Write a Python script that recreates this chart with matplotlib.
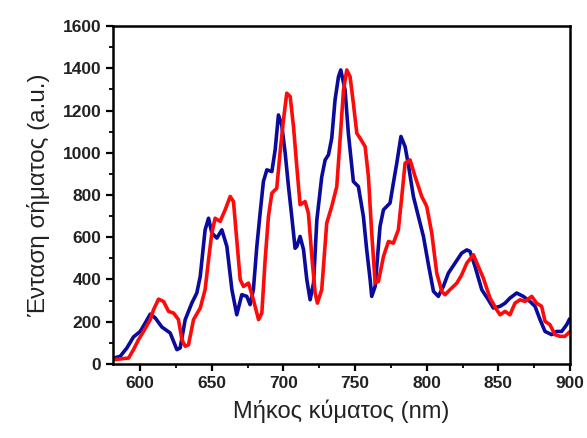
import matplotlib.pyplot as plt
from matplotlib.ticker import MultipleLocator

plt.rcParams['font.family'] = ['Liberation Sans', 'DejaVu Sans']

# Φάσμα 1 (μπλε)
mikos_mple = [581.4, 586, 590.7, 595.3, 600, 603.5, 607, 610.5, 615.1, 620.9, 625.6, 627.9,
              631.4, 636, 639.5, 641.9, 645.3, 647.7, 650, 653.5, 657, 660.5, 664, 667.4,
              670.9, 674.4, 676.7, 679, 681.4, 683.7, 686, 688.4, 691.9, 694.2, 696.5, 698.8,
              701.2, 703.5, 705.8, 708.1, 709.3, 711.6, 714, 716.3, 718.6, 721, 723.3, 726.7,
              729.1, 731.4, 733.7, 736, 738.4, 740, 743, 745.3, 748.8, 752.3, 755.8, 758.1,
              760.5, 761.6, 764, 767.4, 769.8, 774.4, 776.7, 779.1, 782, 784.9, 787.2, 790.7,
              794.2, 797.7, 801.2, 804.7, 808.1, 811.6, 815.1, 819.8, 824.4, 828, 830.2, 833.7,
              838.4, 843, 846.5, 851.2, 854.7, 858.1, 862.8, 867.4, 872.1, 875.6, 879.1, 882.6,
              887.2, 890.7, 894.2, 897.7, 899.5]
entasi_mple = [28, 36, 76, 128, 154, 194, 236, 218, 175, 147, 68, 76,
               210, 288, 336, 415, 635, 690, 620, 596, 635, 556, 352, 233,
               328, 320, 281, 352, 556, 714, 864, 919, 911, 1014, 1179, 1131,
               998, 840, 698, 548, 556, 604, 541, 399, 304, 383, 682, 885,
               966, 990, 1069, 1250, 1360, 1392, 1297, 1092, 864, 840, 698, 541,
               399, 320, 367, 651, 730, 762, 856, 951, 1077, 1029, 943, 793,
               698, 604, 470, 344, 320, 367, 430, 478, 525, 540, 533, 462,
               352, 304, 265, 273, 288, 312, 336, 320, 296, 273, 210, 154,
               139, 154, 154, 186, 210]

# Φάσμα 2 (κόκκινο)
mikos_kokkino = [581.4, 586, 591.9, 595.3, 598.8, 602.3, 607, 609.3, 612.8, 616.3, 619.8, 623.3,
                 626.7, 629.1, 631.4, 633.7, 637.2, 641.9, 645.3, 647.7, 650, 652.3, 655.8, 659.3,
                 662.8, 665.1, 667.4, 669.8, 672.1, 675.6, 679, 682.6, 684.9, 687.2, 689.5, 691.9,
                 695.3, 697.7, 700, 702.3, 704.7, 707, 709.3, 711.6, 715.1, 717.4, 719.8, 722.1,
                 723.7, 726.7, 730.2, 733.7, 737.2, 739.5, 741.9, 744.2, 746.5, 748.8, 751.2, 753.5,
                 757, 759.3, 761.6, 764, 766.3, 769.8, 773.3, 776.7, 780.2, 782.6, 784.9, 788.4,
                 791.9, 796.5, 800, 803.5, 807, 810.5, 812.8, 816.3, 821, 824.4, 828, 832.6,
                 836, 839.5, 844.2, 848.8, 851.2, 854.7, 858.1, 861.6, 865.1, 868.6, 873.3, 876.7,
                 880.2, 882.6, 886, 889.5, 893, 896.5, 899.5]
entasi_kokkino = [20, 24, 28, 68, 115, 154, 210, 257, 307, 296, 249, 241,
                  210, 115, 84, 91, 210, 265, 352, 493, 620, 690, 675, 730,
                  793, 769, 588, 399, 367, 383, 304, 210, 241, 493, 698, 809,
                  832, 1006, 1155, 1282, 1266, 1124, 935, 754, 769, 714, 509, 336,
                  288, 352, 667, 746, 840, 1061, 1297, 1392, 1360, 1234, 1092, 1069,
                  1029, 887, 620, 383, 391, 509, 580, 572, 635, 793, 951, 966,
                  887, 793, 746, 620, 430, 344, 328, 352, 383, 422, 478, 517,
                  462, 407, 312, 257, 233, 249, 233, 288, 304, 296, 320, 288,
                  273, 202, 186, 139, 131, 131, 150]

fig = plt.figure(figsize=(5.87, 4.38), dpi=100)
ax = fig.add_axes([0.1925, 0.169, 0.7785, 0.7716])

ax.plot(mikos_mple, entasi_mple, color='#0a0a9c', lw=2.6)
ax.plot(mikos_kokkino, entasi_kokkino, color='#ff0a0a', lw=2.6)

ax.set_xlim(581, 900)
ax.set_ylim(0, 1600)
ax.xaxis.set_major_locator(MultipleLocator(50))
ax.xaxis.set_minor_locator(MultipleLocator(25))
ax.yaxis.set_major_locator(MultipleLocator(200))
ax.yaxis.set_minor_locator(MultipleLocator(100))
ax.tick_params(which='major', direction='out', length=5, width=1.6, labelsize=12.5)
ax.tick_params(which='minor', direction='out', length=3, width=1.3)
for lbl in ax.get_xticklabels() + ax.get_yticklabels():
    lbl.set_fontweight('bold')
    lbl.set_color('#222222')
for s in ax.spines.values():
    s.set_linewidth(1.8)

ax.set_xlabel('Μήκος κύματος (nm)', fontsize=17, color='#222222', labelpad=6)
ax.set_ylabel('Ένταση σήματος (a.u.)', fontsize=17.5, color='#222222', labelpad=9)

fig.savefig('out.png', dpi=100)
